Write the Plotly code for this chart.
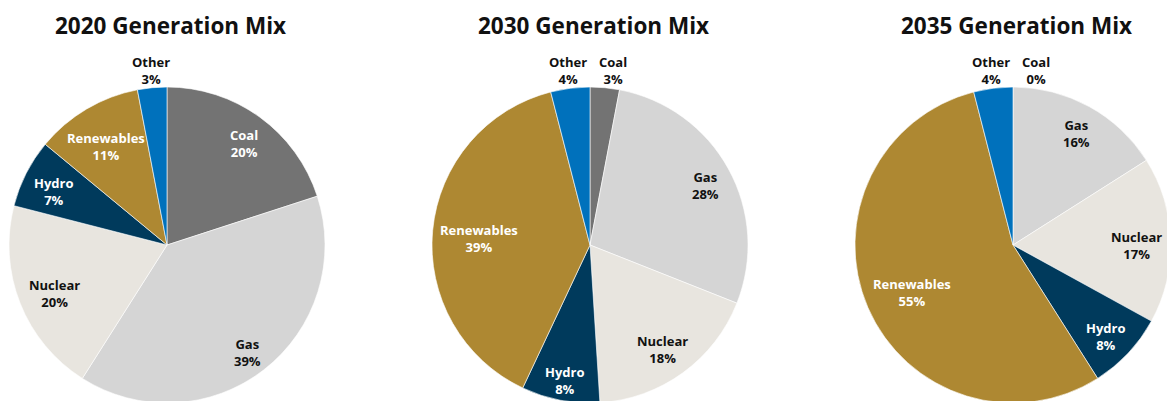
import math
import plotly.graph_objects as go

categories = ["Coal", "Gas", "Nuclear", "Hydro", "Renewables", "Other"]
mix_2020 = [20, 39, 20, 7, 11, 3]
mix_2030 = [3, 28, 18, 8, 39, 4]
mix_2035 = [0, 16, 17, 8, 55, 4]
titles = ["2020 Generation Mix", "2030 Generation Mix", "2035 Generation Mix"]

colors = ["#737373", "#d5d5d5", "#e8e5df", "#003a5c", "#ae8832", "#0071bc"]
text_colors = ["#ffffff", "#111111", "#111111", "#ffffff", "#ffffff", "#111111"]

# canvas slightly larger than the viewport so the right pie is clipped like the reference
W, H = 1180, 410
FONT = "Open Sans"
FS = 13

centers_px = [167, 590, 1013]
cy_px = 245
R = 158
SMALL = 4  # slices at or below this share are labelled outside


def px_x(x):
    return x / W


def px_y(y):
    return (H - y) / H


fig = go.Figure()
for vals, cx in zip([mix_2020, mix_2030, mix_2035], centers_px):
    dom = dict(x=[px_x(cx - R), px_x(cx + R)], y=[px_y(cy_px + R), px_y(cy_px - R)])
    fig.add_trace(go.Pie(
        labels=categories, values=vals, sort=False, direction="clockwise",
        rotation=0, textinfo="none",
        marker=dict(colors=colors, line=dict(color="#ffffff", width=0.6)),
        domain=dom, showlegend=False, hoverinfo="label+percent",
    ))

    total = sum(vals)
    cum = 0
    outside = []
    for cat, v, tc in zip(categories, vals, text_colors):
        mid = (cum + v / 2) / total * 2 * math.pi
        cum += v
        ux, uy = math.sin(mid), -math.cos(mid)
        if v <= SMALL:
            outside.append([cx + (R + 14) * ux, cat, v])
            continue
        # keep the label box inside the slice, near the rim
        hw = 0.5 * max(7.7 * len(cat), 9.4 * len(f"{v}%"))
        hh = 14
        dist = 0.955 * R - (abs(ux) * hw + abs(uy) * hh)
        fig.add_annotation(
            text=f"<b>{cat}</b><br><b>{v}%</b>",
            x=px_x(cx + dist * ux), y=px_y(cy_px + dist * uy + 4),
            xref="paper", yref="paper", showarrow=False,
            font=dict(family=FONT, size=FS, color=tc),
            xanchor="center", yanchor="middle", align="center",
        )
    outside.sort()
    for i in range(1, len(outside)):
        if outside[i][0] - outside[i - 1][0] < 45:
            outside[i][0] = outside[i - 1][0] + 45
    for lx, cat, v in outside:
        fig.add_annotation(
            text=f"<b>{cat}</b><br><b>{v}%</b>",
            x=px_x(lx), y=px_y(cy_px - R - 17),
            xref="paper", yref="paper", showarrow=False,
            font=dict(family=FONT, size=FS, color="#111111"),
            xanchor="center", yanchor="middle", align="center",
        )

for title, cx in zip(titles, centers_px):
    fig.add_annotation(
        text=f"<b>{title}</b>", x=px_x(cx + 3), y=px_y(25),
        xref="paper", yref="paper", showarrow=False,
        font=dict(family=FONT, size=22.5, color="#111111"),
        xanchor="center", yanchor="middle",
    )

fig.update_layout(
    width=W, height=H,
    margin=dict(l=0, r=0, t=0, b=0),
    paper_bgcolor="#ffffff",
    plot_bgcolor="#ffffff",
)

fig.write_html(
    "out.html",
    config={"displayModeBar": False},
    post_script="document.body.style.margin='0';document.body.style.overflow='hidden';",
)
